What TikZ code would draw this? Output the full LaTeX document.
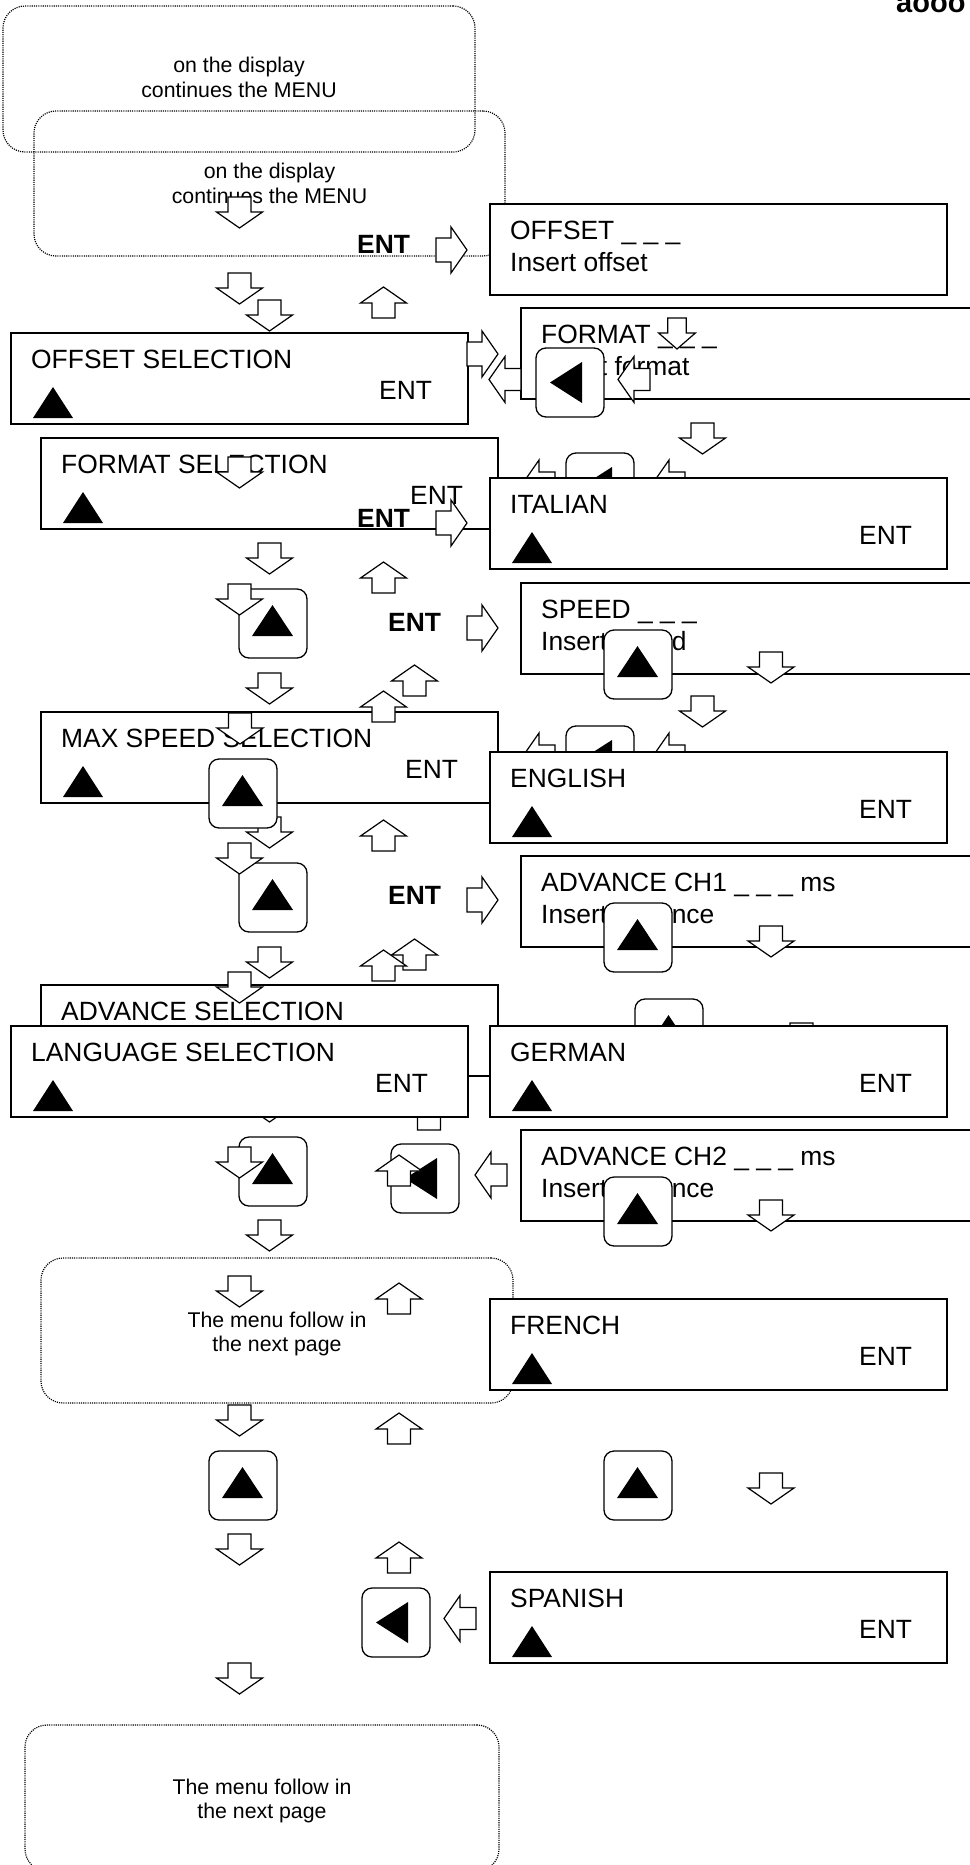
\documentclass[tikz,border=0pt]{standalone}
\usepackage{fontspec}
\setmainfont{Liberation Sans}
\usetikzlibrary{calc}

\tikzset{
  disp/.style={draw, line width=1.6pt, fill=white, minimum width=457pt, minimum height=91pt, anchor=north west, inner sep=0pt, outer sep=0pt},
  btxt/.style={anchor=base west, inner sep=0pt, font=\fontsize{26.4}{30}\selectfont},
  entb/.style={anchor=base west, inner sep=0pt, font=\fontsize{26.4}{30}\selectfont\bfseries},
  dbox/.style={draw, dash pattern=on 1.1pt off 1.1pt, line width=1.2pt, rounded corners=22pt, inner sep=0pt},
  dtxt/.style={anchor=base, inner sep=0pt, font=\fontsize{21.3}{24}\selectfont},
  arr/.style={draw, line width=1.2pt, fill=white, line join=miter},
  btn/.style={draw, line width=1.3pt, fill=white, rounded corners=10pt},
  pics/darr/.style={code={\path[arr] (-11.5,0) -- (11.5,0) -- (11.5,15) -- (23,15) -- (0,31) -- (-23,15) -- (-11.5,15) -- cycle;}},
  pics/uarr/.style={code={\path[arr] (0,0) -- (23,16) -- (11.5,16) -- (11.5,31) -- (-11.5,31) -- (-11.5,16) -- (-23,16) -- cycle;}},
  pics/rarr/.style={code={\path[arr] (0,-12) -- (15,-12) -- (15,-23) -- (31,0) -- (15,23) -- (15,12) -- (0,12) -- cycle;}},
  pics/larr/.style={code={\path[arr] (0,0) -- (16,-23) -- (16,-11) -- (32,-11) -- (32,11) -- (16,11) -- (16,23) -- cycle;}},
  pics/ubtn/.style={code={\path[btn] (0,0) rectangle (68,69); \fill (13,47) -- (54,47) -- (33.5,16) -- cycle;}},
  pics/lbtn/.style={code={\path[btn] (0,0) rectangle (68,69); \fill (14,34.5) -- (46,14) -- (46,55) -- cycle;}},
}

\newcommand\dispsel[5]{%
  \node[disp] (#1) at (#2,#3) {};
  \node[btxt] (#1-a) at ($(#1.north west)+(20,35.5)$) {#4};
  \fill ($(#1.north west)+(22,85)$) -- ++(40,0) -- ++(-20,-31) -- cycle;
  \node[btxt] (#1-b) at ($(#1.north west)+(#5,66)$) {ENT};
}
\newcommand\dispinp[5]{%
  \node[disp] (#1) at (#2,#3) {};
  \node[btxt] (#1-a) at ($(#1.north west)+(20,35)$) {#4};
  \node[btxt] (#1-b) at ($(#1.north west)+(20,67)$) {#5};
}

\begin{document}
\begin{tikzpicture}[x=1pt,y=-1pt]
\useasboundingbox (0,0) rectangle (969,1865);
\fill[white] (0,0) rectangle (969,1865);

% corner text (cut off at the top edge, as in the reference)
\node[anchor=base west, inner sep=0pt, font=\fontsize{29}{30}\selectfont\bfseries] (corner) at (896,13) {aooo};

% dotted boxes
\node[dbox, minimum width=472pt, minimum height=146pt] (db1) at (239,79) {};
\node[dtxt] (db1a) at (239,73) {on the display};
\node[dtxt] (db1b) at (239,98) {continues the MENU};
\node[dbox, minimum width=471pt, minimum height=145pt] (db2) at (269.5,183.5) {};
\node[dtxt] (db2a) at (269.5,178) {on the display};
\node[dtxt] (db2b) at (269.5,203) {continues the MENU};
\node[dbox, minimum width=472pt, minimum height=145pt] (db3) at (277,1330.5) {};
\node[dtxt] (db3a) at (277,1327) {The menu follow in};
\node[dtxt] (db3b) at (277,1351) {the next page};
\node[dbox, minimum width=474pt, minimum height=146pt] (db4) at (262,1798) {};
\node[dtxt] (db4a) at (262,1794) {The menu follow in};
\node[dtxt] (db4b) at (262,1818) {the next page};

% back layer boxes
\dispsel{fmtsel}{41}{438}{FORMAT SELECTION}{369}
\dispsel{maxsel}{41}{712}{MAX SPEED SELECTION}{364}
\dispsel{advsel}{41}{985}{ADVANCE SELECTION}{366}
\dispinp{fmt}{521}{308}{FORMAT \_ \_ \_}{Insert format}
\dispinp{spd}{521}{583}{SPEED \_ \_ \_}{Insert speed}
\dispinp{ch1}{521}{856}{ADVANCE CH1 \_ \_ \_ ms}{Insert advance}
\dispinp{ch2}{521}{1130}{ADVANCE CH2 \_ \_ \_ ms}{Insert advance}

% hidden elements
\pic (l3) at (523,483) {larr};
\pic (c2) at (566,453) {lbtn};
\pic (l4) at (653,483) {larr};
\pic (l5) at (523,756) {larr};
\pic (c3) at (566,726) {lbtn};
\pic (l6) at (653,756) {larr};
\pic (b6) at (635,999) {ubtn};
\pic (dh1) at (801.5,1023) {darr};
\pic (e6) at (269.5,1091) {darr};
\pic (uh1) at (429,1099) {uarr};

% front layer boxes
\dispsel{offsel}{11}{333}{OFFSET SELECTION}{368}
\dispsel{langsel}{11}{1026}{LANGUAGE SELECTION}{364}
\dispinp{off}{490}{204}{OFFSET \_ \_ \_}{Insert offset}
\dispsel{ita}{490}{478}{ITALIAN}{369}
\dispsel{eng}{490}{752}{ENGLISH}{369}
\dispsel{ger}{490}{1026}{GERMAN}{369}
\dispsel{fre}{490}{1299}{FRENCH}{369}
\dispsel{spa}{490}{1572}{SPANISH}{369}

% buttons
\pic (b1) at (239,589) {ubtn};
\pic (b2) at (604,630) {ubtn};
\pic (b4) at (239,863) {ubtn};
\pic (b5) at (604,903) {ubtn};
\pic (b7) at (239,1137) {ubtn};
\pic (b8) at (604,1177) {ubtn};
\pic (b9) at (209,1451) {ubtn};
\pic (b10) at (604,1451) {ubtn};
\pic (c1) at (536,348) {lbtn};
\pic (c4) at (391,1144) {lbtn};
\pic (c5) at (362,1588) {lbtn};

% down arrows
\pic (d1) at (239.5,197) {darr};
\pic (d2) at (239.5,273) {darr};
\pic (e1) at (269.5,300) {darr};
\pic[xscale=0.8] (ds) at (677,318) {darr};
\pic (f1) at (702.5,423) {darr};
\pic (d3) at (239.5,457) {darr};
\pic (e2) at (269.5,543) {darr};
\pic (d4) at (239.5,584) {darr};
\pic (g1) at (771,652) {darr};
\pic (e3) at (269.5,673) {darr};
\pic (f2) at (702.5,696) {darr};
\pic (d5) at (240,713) {darr};
\pic (e4) at (269.5,817) {darr};
\pic (d6) at (239.5,843) {darr};
\pic (g2) at (771,926) {darr};
\pic (e5) at (269.5,947) {darr};
\pic (d7) at (239.5,972) {darr};
\pic (d8) at (239.5,1147) {darr};
\pic (g3) at (771,1200) {darr};
\pic (e7) at (269.5,1220) {darr};
\pic (d9) at (239.5,1276) {darr};
\pic (d10) at (239.5,1405) {darr};
\pic (g4) at (771,1473) {darr};
\pic (d11) at (239.5,1534) {darr};
\pic (d12) at (239.5,1663) {darr};

\pic (b3) at (209,759) {ubtn};

% up arrows
\pic (u1) at (383.5,287) {uarr};
\pic (u2) at (383.5,562) {uarr};
\pic (v1) at (414.5,665) {uarr};
\pic (u3) at (383.5,691) {uarr};
\pic (u4) at (383.5,820) {uarr};
\pic (v2) at (414.5,939) {uarr};
\pic (u5) at (383.5,950) {uarr};
\pic (w1) at (399,1155) {uarr};
\pic (w2) at (399,1283) {uarr};
\pic (w3) at (399,1413) {uarr};
\pic (w4) at (399,1542) {uarr};

% right arrows
\pic (r1) at (436,250) {rarr};
\pic (r2) at (467,354) {rarr};
\pic (r3) at (436,523) {rarr};
\pic (r4) at (467,628) {rarr};
\pic (r5) at (467,900) {rarr};

% left arrows
\pic (l1) at (489,379.5) {larr};
\pic (l2) at (618,379.5) {larr};
\pic (l7) at (475,1175) {larr};
\pic (l8) at (444,1618.5) {larr};

% bold ENT labels
\node[entb] (ent1) at (357,253) {ENT};
\node[entb] (ent2) at (357,527) {ENT};
\node[entb] (ent3) at (388,631) {ENT};
\node[entb] (ent4) at (388,904) {ENT};
\end{tikzpicture}
\end{document}
